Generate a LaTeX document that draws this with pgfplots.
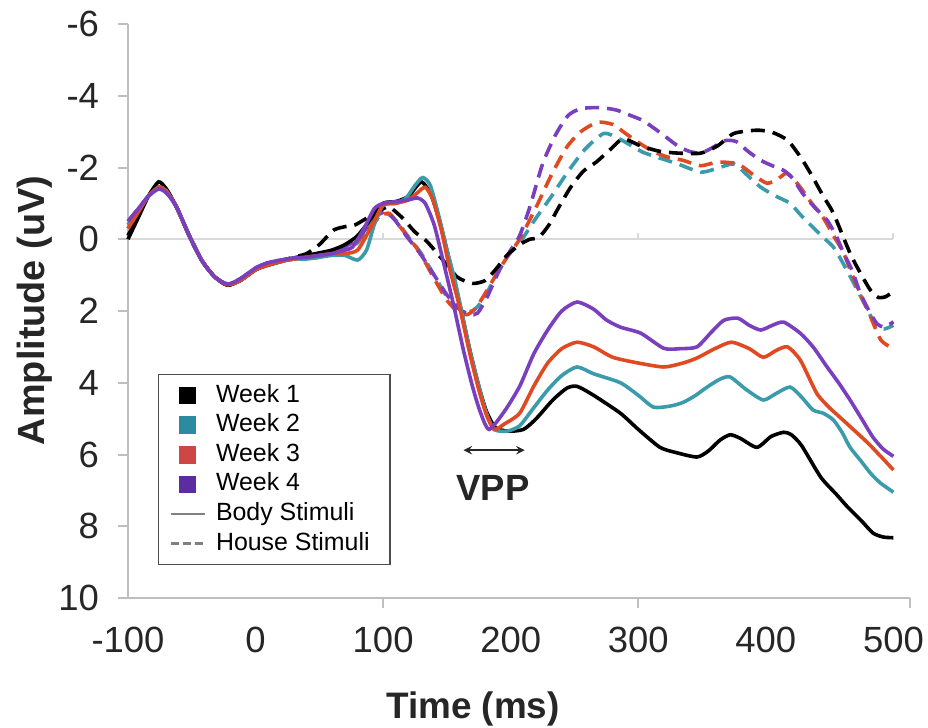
\documentclass[border=0pt]{standalone}
\usepackage{pgfplots}
\pgfplotsset{compat=1.18}
\usepackage{fontspec}
\setmainfont{Liberation Sans}
\definecolor{cTeal}{HTML}{3A9BAD}
\definecolor{cRed}{HTML}{E04A22}
\definecolor{cPur}{HTML}{7A3FBE}
\definecolor{lTeal}{HTML}{2E8B9F}
\definecolor{lRed}{HTML}{CF4646}
\definecolor{lPur}{HTML}{5B2DA0}
\definecolor{axgray}{HTML}{BFBFBF}
\begin{document}
\begin{tikzpicture}
\useasboundingbox (-64bp,-65bp) rectangle (400bp,299bp);
\begin{axis}[
  at={(0,0)}, anchor=south west,
  scale only axis, width=391bp, height=287bp,
  xmin=-100, xmax=513, ymin=-6, ymax=10,
  y dir=reverse,
  axis x line*=bottom, axis y line*=left,
  axis line style={axgray, line width=1bp},
  xtick={-100,0,100,200,300,400,500},
  xticklabels={-100,0,100,200,300,400,500},
  ytick={-6,-4,-2,0,2,4,6,8,10},
  yticklabels={-6,-4,-2,0,2,4,6,8,10},
  xtick style={draw=none},
  ytick style={axgray, line width=1bp},
  tick align=outside, major tick length=5bp,
  ticklabel style={font=\fontsize{18.3}{20}\selectfont, text=black!85},
  yticklabel style={xshift=-6bp},
  xticklabel style={yshift=-6bp},
  clip=false,
  legend style={at={(axis description cs:0.038,0.39)}, anchor=north west,
    draw=black!70, line width=0.6bp, inner ysep=3bp, inner xsep=5.5bp,
    font=\fontsize{12.5}{14}\selectfont,
    nodes={inner sep=1.65bp, text height=9bp, text depth=2.5bp},
    /tikz/every odd column/.append style={column sep=3.5bp}},
  legend cell align=left,
  every axis plot/.append style={line width=1.8bp, smooth, tension=0.4},
]
\addlegendimage{only marks, mark=square*, mark size=3.5bp, black}
\addlegendentry{Week 1}
\addlegendimage{only marks, mark=square*, mark size=3.5bp, lTeal}
\addlegendentry{Week 2}
\addlegendimage{only marks, mark=square*, mark size=3.5bp, lRed}
\addlegendentry{Week 3}
\addlegendimage{only marks, mark=square*, mark size=3.5bp, lPur}
\addlegendentry{Week 4}
\addlegendimage{gray, line width=1.2bp}
\addlegendentry{Body Stimuli}
\addlegendimage{gray, line width=1.2bp, dash pattern=on 4bp off 2bp}
\addlegendentry{House Stimuli\hspace*{3bp}}

\draw[black!15, line width=1bp] (axis cs:-100,0) -- (axis cs:500,0);
\pgfplotsinvokeforeach{100,300,500}{\draw[black!15, line width=1bp] (axis cs:#1,0) -- ([yshift=3bp]axis cs:#1,0);}
\pgfplotsinvokeforeach{100,300,513}{\draw[axgray, line width=1bp] (axis cs:#1,10) -- ([yshift=-5bp]axis cs:#1,10);}
\draw[axgray, line width=1bp] ([xshift=-5bp]axis cs:-100,10) -- (axis cs:-100,10);

% House stimuli (dashed)
\addplot[forget plot, cTeal, dash pattern=on 7bp off 4bp] coordinates {
(-100,-0.4) (-92,-0.8) (-84,-1.2) (-76,-1.45) (-70,-1.35) (-62,-0.9) (-52,-0.1) (-42,0.6) (-32,1.05) (-22,1.25) (-12,1.15) (0,0.85) (10,0.7) (20,0.62) (30,0.55)
(40,0.55) (50,0.5) (60,0.4) (70,0.3) (80,0.1) (90,-0.4) (98,-0.65) (104,-0.7) (112,-0.45) (120,-0.05) (129,0.35) (140,1.0) (150,1.6) (160,1.95) (170,2.0) (178,1.7) (188,1.05) (198,0.45) (207,0.1) (220,-0.6) (232,-1.2) (244,-1.84) (258,-2.5) (273,-2.95) (285,-2.8) (295,-2.6) (304,-2.42) (318,-2.25) (331,-2.1) (349,-1.87) (362,-1.98) (375,-2.1) (385,-1.8) (396,-1.45) (408,-1.2) (419,-1.0) (428,-0.65) (437,-0.33) (445,-0.05) (453,0.22) (461,0.7) (469,1.23) (478,1.85) (487,2.45) (493,2.5) (500,2.4)
};
\addplot[forget plot, cRed, dash pattern=on 7bp off 4bp] coordinates {
(-100,-0.3) (-92,-0.75) (-84,-1.2) (-76,-1.45) (-70,-1.35) (-62,-0.9) (-52,-0.1) (-42,0.6) (-32,1.05) (-22,1.27) (-12,1.15) (0,0.85) (10,0.72) (20,0.62) (30,0.55)
(40,0.5) (50,0.45) (60,0.35) (70,0.25) (80,0.05) (90,-0.35) (98,-0.65) (105,-0.72) (112,-0.4) (120,-0.05) (129,0.39) (140,1.1) (150,1.7) (158,2.0) (166,2.1) (173,1.9) (181,1.45) (190,0.9) (199,0.4) (207,0.0) (220,-0.9) (232,-1.8) (244,-2.57) (255,-3.0) (268,-3.26) (280,-3.2) (290,-2.95) (300,-2.7) (310,-2.48) (322,-2.3) (335,-2.2) (349,-2.05) (362,-2.15) (378,-2.1) (390,-1.8) (401,-1.56) (410,-1.7) (416,-1.84) (421,-1.7) (427,-1.45) (436,-1.0) (445,-0.6) (453,-0.1) (461,0.39) (470,1.2) (480,1.98) (490,2.8) (500,3.05)
};
\addplot[forget plot, cPur, dash pattern=on 7bp off 4bp] coordinates {
(-100,-0.5) (-92,-0.85) (-84,-1.2) (-76,-1.4) (-70,-1.3) (-62,-0.9) (-52,-0.1) (-42,0.6) (-32,1.05) (-22,1.25) (-12,1.1) (0,0.8) (10,0.65) (20,0.58) (30,0.52)
(40,0.5) (50,0.45) (60,0.35) (70,0.2) (80,0.0) (90,-0.45) (97,-0.7) (103,-0.75) (110,-0.5) (118,-0.1) (129,0.4) (140,1.0) (150,1.55) (160,1.95) (168,2.1) (174,2.06) (181,1.65) (188,1.1) (194,0.65) (200,0.3) (207,-0.1) (215,-0.9) (225,-2.1) (235,-2.9) (245,-3.45) (255,-3.64) (270,-3.67) (283,-3.6) (294,-3.45) (304,-3.3) (318,-2.95) (331,-2.6) (340,-2.45) (349,-2.4) (358,-2.55) (368,-2.75) (377,-2.72) (386,-2.45) (396,-2.2) (405,-2.05) (414,-1.92) (421,-1.7) (429,-1.27) (438,-0.9) (448,-0.53) (455,-0.1) (461,0.39) (468,0.9) (474,1.51) (481,2.0) (487,2.35) (493,2.45) (500,2.3)
};
\addplot[forget plot, black, dash pattern=on 7bp off 4bp] coordinates {
(-100,-0.1) (-92,-0.65) (-84,-1.2) (-76,-1.55) (-70,-1.4) (-62,-0.9) (-52,-0.1) (-42,0.6) (-32,1.05) (-22,1.28) (-12,1.15) (0,0.85) (10,0.7) (20,0.6) (30,0.5)
(40,0.4) (50,0.15) (61,-0.25) (70,-0.35) (78,-0.4) (90,-0.65) (100,-0.85) (105,-0.9) (115,-0.6) (125,-0.2) (134,0.05) (145,0.5) (158,1.05) (170,1.23) (180,1.15) (188,0.85) (197,0.45) (207,0.15) (215,0.0) (222,-0.05) (230,-0.4) (237,-0.85) (247,-1.45) (257,-1.9) (267,-2.15) (278,-2.5) (288,-2.8) (302,-2.6) (317,-2.45) (332,-2.4) (349,-2.4) (362,-2.6) (375,-2.95) (393,-3.04) (405,-2.98) (417,-2.76) (427,-2.3) (435,-1.84) (445,-1.2) (453,-0.72) (466,0.39) (475,1.0) (482,1.42) (488,1.62) (494,1.6) (500,1.45)
};

% Body stimuli (solid)
\addplot[forget plot, black] coordinates {
(-100,0.0) (-92,-0.6) (-84,-1.2) (-76,-1.6) (-70,-1.4) (-62,-0.9) (-52,-0.1) (-42,0.6) (-32,1.05) (-22,1.28) (-12,1.15) (0,0.85) (10,0.72) (20,0.62) (30,0.52)
(40,0.45) (50,0.38) (60,0.3) (70,0.15) (80,-0.1) (90,-0.55) (100,-1.0) (110,-1.05) (120,-1.2) (130,-1.6) (138,-1.2) (145,-0.4) (152,0.6) (160,1.8) (168,3.1) (175,4.1) (181,4.8) (188,5.25) (198,5.35) (210,5.3) (220,5.0) (233,4.48) (244,4.15) (252,4.1) (265,4.35) (286,4.85) (300,5.3) (317,5.8) (330,5.95) (346,6.07) (355,5.9) (364,5.6) (372,5.45) (380,5.55) (393,5.8) (404,5.5) (414,5.38) (420,5.45) (428,5.75) (443,6.63) (455,7.1) (464,7.46) (475,7.85) (484,8.19) (492,8.3) (500,8.32)
};
\addplot[forget plot, cTeal] coordinates {
(-100,-0.4) (-92,-0.8) (-84,-1.2) (-76,-1.45) (-70,-1.35) (-62,-0.9) (-52,-0.1) (-42,0.6) (-32,1.05) (-22,1.25) (-12,1.15) (0,0.85) (10,0.7) (20,0.62) (30,0.55)
(40,0.55) (50,0.5) (60,0.45) (70,0.45) (80,0.58) (87,0.3) (93,-0.4) (100,-0.95) (110,-1.0) (118,-1.15) (125,-1.5) (131,-1.72) (137,-1.5) (144,-0.6) (150,0.3) (156,1.1) (162,2.1) (168,3.1) (175,4.1) (181,4.85) (187,5.3) (197,5.35) (207,5.2) (218,4.7) (229,4.2) (240,3.8) (252,3.56) (265,3.75) (286,4.0) (300,4.35) (312,4.68) (325,4.65) (335,4.55) (345,4.35) (354,4.12) (364,3.9) (372,3.84) (385,4.2) (398,4.48) (408,4.3) (419,4.12) (428,4.4) (437,4.76) (445,4.85) (453,5.04) (460,5.4) (466,5.8) (475,6.2) (482,6.52) (490,6.8) (500,7.05)
};
\addplot[forget plot, cRed] coordinates {
(-100,-0.3) (-92,-0.75) (-84,-1.2) (-76,-1.45) (-70,-1.35) (-62,-0.9) (-52,-0.1) (-42,0.6) (-32,1.05) (-22,1.27) (-12,1.15) (0,0.85) (10,0.72) (20,0.62) (30,0.55)
(40,0.5) (50,0.45) (60,0.4) (70,0.4) (80,0.3) (90,-0.3) (100,-0.95) (110,-1.0) (120,-1.1) (127,-1.3) (133,-1.45) (139,-1.1) (146,-0.2) (152,0.8) (160,1.9) (168,3.2) (175,4.2) (181,4.9) (187,5.3) (195,5.15) (207,4.85) (218,4.1) (229,3.45) (240,3.05) (252,2.87) (265,3.0) (280,3.29) (300,3.45) (320,3.56) (335,3.45) (346,3.31) (360,3.05) (373,2.87) (387,3.05) (398,3.29) (408,3.1) (417,3.0) (427,3.37) (440,4.3) (450,4.7) (458,4.96) (470,5.35) (480,5.68) (490,6.05) (500,6.43)
};
\addplot[forget plot, cPur] coordinates {
(-100,-0.5) (-92,-0.85) (-84,-1.2) (-76,-1.4) (-70,-1.3) (-62,-0.9) (-52,-0.1) (-42,0.6) (-32,1.05) (-22,1.25) (-12,1.1) (0,0.8) (10,0.65) (20,0.58) (30,0.52)
(40,0.5) (50,0.45) (60,0.4) (70,0.3) (76,0.22) (85,-0.3) (93,-0.85) (100,-1.0) (110,-1.05) (120,-1.1) (127,-1.15) (133,-1.0) (140,-0.4) (147,0.6) (155,1.8) (163,3.1) (170,4.1) (176,4.8) (183,5.3) (195,4.8) (207,4.1) (218,3.2) (229,2.53) (240,2.0) (252,1.75) (265,1.95) (275,2.25) (286,2.45) (302,2.62) (320,3.04) (333,3.05) (346,3.0) (357,2.6) (367,2.26) (378,2.2) (387,2.4) (396,2.53) (405,2.4) (414,2.31) (427,2.62) (437,3.0) (448,3.56) (457,4.0) (466,4.48) (475,5.0) (484,5.52) (492,5.85) (500,6.05)
};

\draw[<->, >=stealth, black!85, line width=0.9bp] (axis cs:163,5.88) -- (axis cs:211,5.88);
\node[font=\bfseries\fontsize{18.3}{20}\selectfont, text=black!85] at (axis cs:186,6.94) {VPP};
\end{axis}
\node[anchor=base, font=\bfseries\fontsize{18.5}{20}\selectfont, text=black!85] at (172.5bp,-60bp) {Time (ms)};
\node[rotate=90, anchor=base, font=\bfseries\fontsize{19}{20}\selectfont, text=black!85] at (-41.5bp,143.75bp) {Amplitude (uV)};
\end{tikzpicture}
\end{document}
